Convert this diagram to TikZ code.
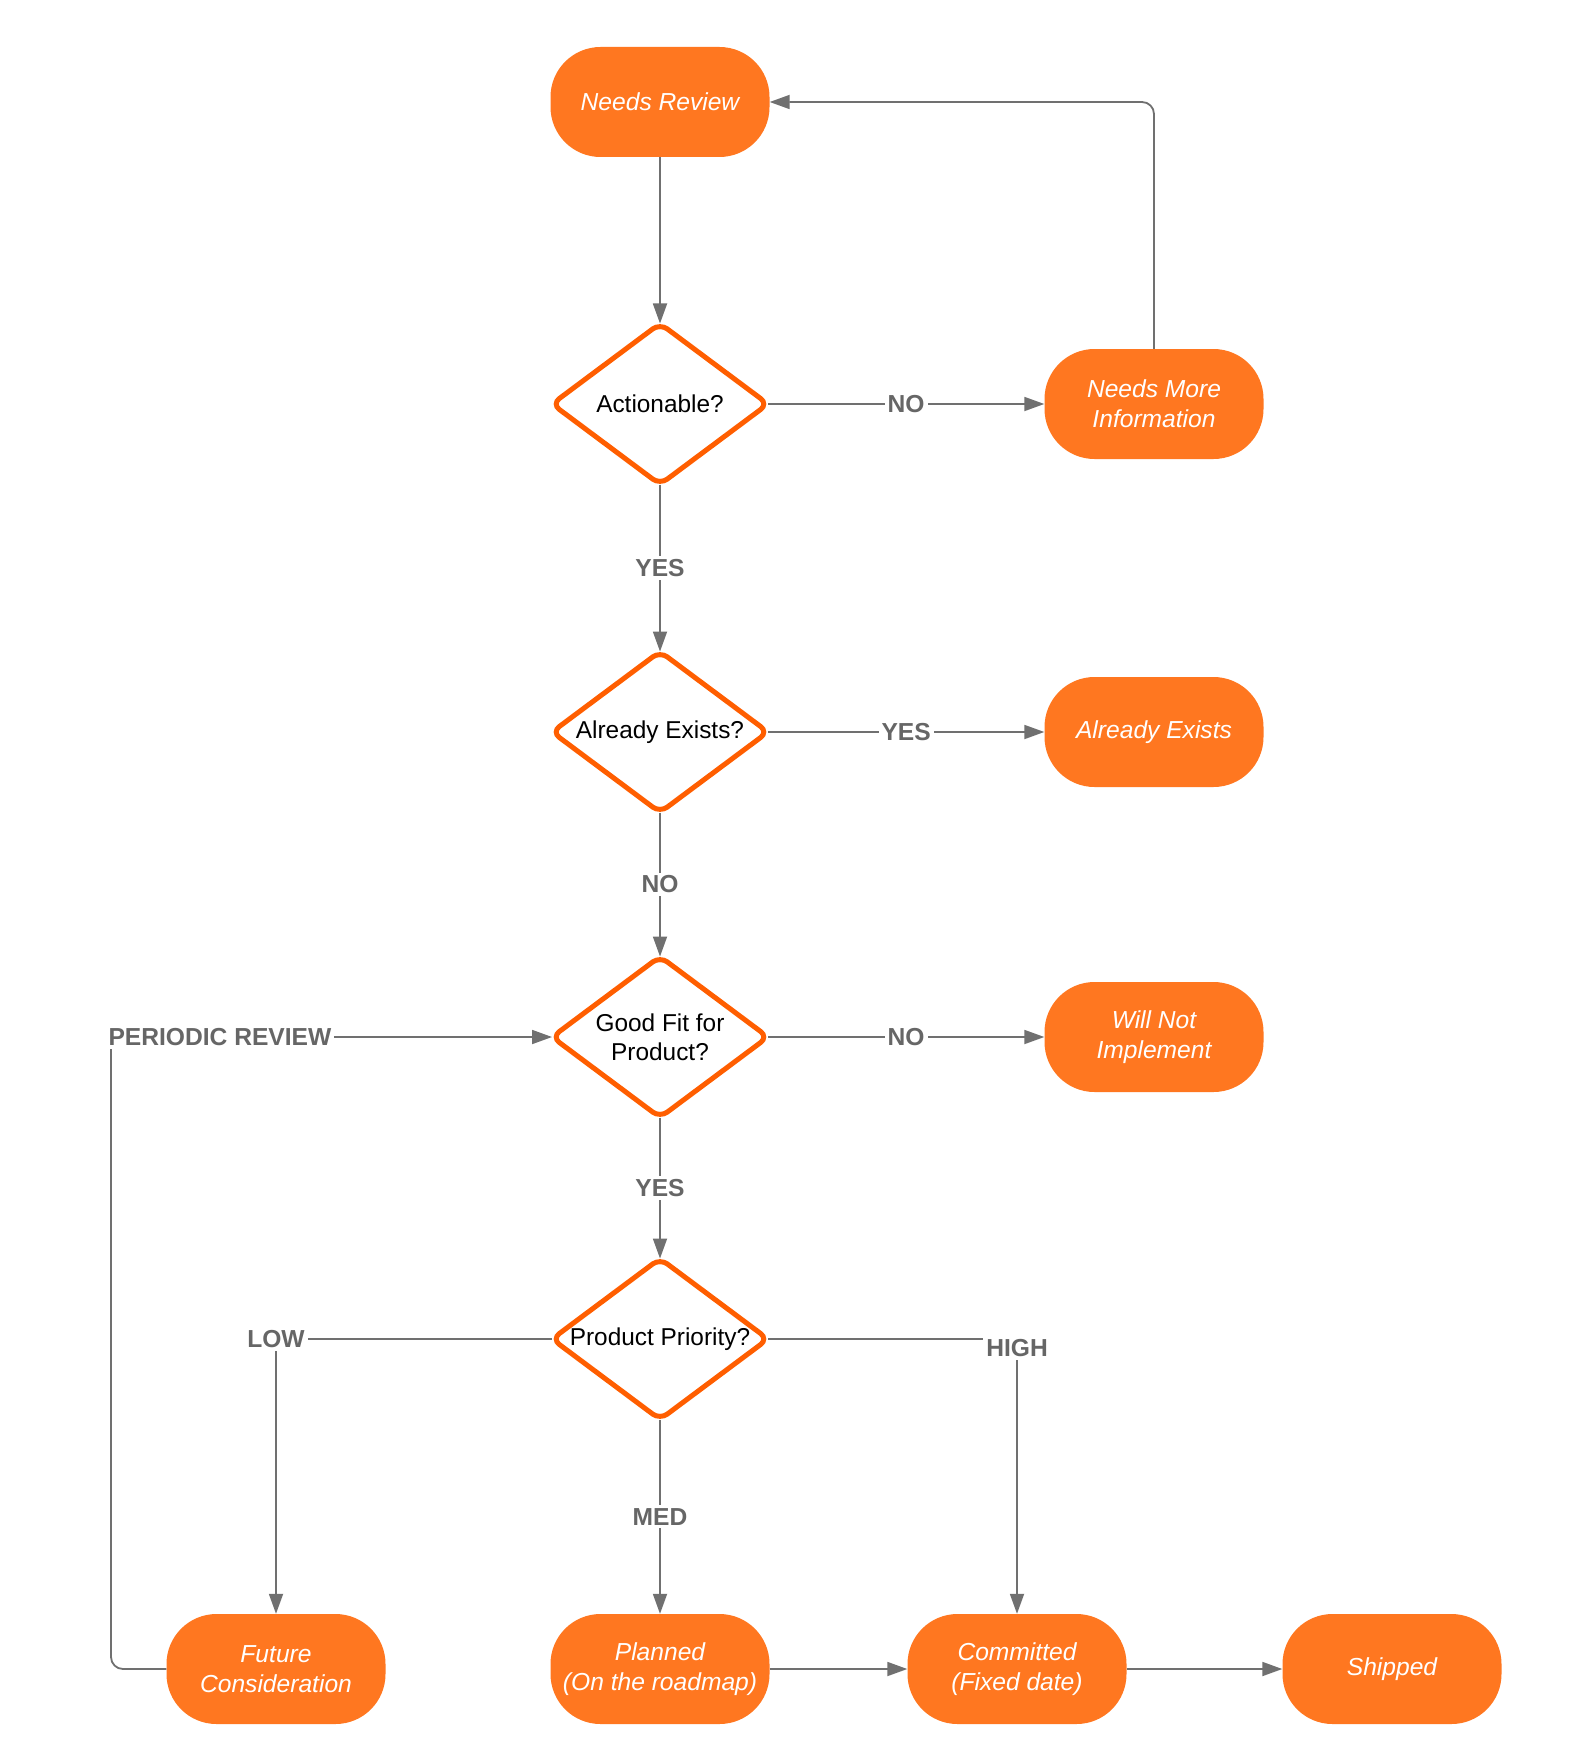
\documentclass[tikz,border=0pt]{standalone}
\usepackage{fontspec}
\setmainfont{Liberation Sans}
\usetikzlibrary{shapes.geometric,arrows.meta}
\definecolor{boxorange}{RGB}{255,119,32}
\definecolor{dmdorange}{RGB}{255,94,0}
\definecolor{conngray}{RGB}{112,112,112}
\definecolor{lblgray}{RGB}{102,102,102}
\begin{document}
\begin{tikzpicture}[x=1pt,y=-1pt,
  state/.style={rectangle, rounded corners=50pt, fill=boxorange, minimum width=219pt, minimum height=110pt, inner sep=0pt, text=white, font=\fontsize{24.6}{30}\selectfont\itshape, align=center},
  decision/.style={diamond, draw=dmdorange, line width=5pt, rounded corners=9pt, fill=white, minimum width=216pt, minimum height=161pt, inner sep=0pt, outer sep=0pt},
  dtext/.style={font=\fontsize{24.4}{29}\selectfont, align=center, inner sep=0pt},
  conn/.style={draw=conngray, line width=1.8pt},
  arr/.style={conn, -{Triangle[length=20pt,width=14pt]}},
  lbl/.style={fill=white, text=lblgray, font=\fontsize{24.6}{28}\selectfont\bfseries, inner sep=3pt}
]
\useasboundingbox (0,0) rectangle (1594,1760);
\fill[white] (0,0) rectangle (1594,1760);

% states
\node[state] (nr)  at (660,102)   {Needs Review};
\node[state] (nmi) at (1154,404)  {Needs More\\Information};
\node[state] (aeb) at (1154,732)  {Already Exists};
\node[state] (wni) at (1154,1037) {Will Not\\Implement};
\node[state] (fc)  at (276,1669)  {Future\\Consideration};
\node[state] (pl)  at (660,1669)  {Planned\\(On the roadmap)};
\node[state] (cm)  at (1017,1669) {Committed\\(Fixed date)};
\node[state] (sh)  at (1392,1669) {Shipped};

% decisions
\node[decision] (act) at (660,404)  {};
\node[dtext] (actT) at (act) {Actionable?};
\node[decision] (ae)  at (660,732)  {};
\node[dtext] (aeT) at (ae) {Already Exists?};
\node[decision] (gf)  at (660,1037) {};
\node[dtext] (gfT) at (gf) {Good Fit for\\Product?};
\node[decision] (pp)  at (660,1339) {};
\node[dtext] (ppT) at (pp) {Product Priority?};

% connectors
\draw[arr] (nr.south) -- (act.north);
\draw[arr] (act.east) -- node[lbl]{NO} (nmi.west);
\draw[arr, rounded corners=12pt] (nmi.north) |- (nr.east);
\draw[arr] (act.south) -- node[lbl]{YES} (ae.north);
\draw[arr] (ae.east) -- node[lbl]{YES} (aeb.west);
\draw[arr] (ae.south) -- node[lbl]{NO} (gf.north);
\draw[arr] (gf.east) -- node[lbl]{NO} (wni.west);
\draw[arr] (gf.south) -- node[lbl]{YES} (pp.north);
\draw[arr] (pp.west) -| node[lbl]{LOW} (fc.north);
\draw[arr] (pp.east) -| node[lbl, yshift=-9pt]{HIGH} (cm.north);
\draw[arr] (pp.south) -- node[lbl]{MED} (pl.north);
\draw[arr] (pl.east) -- (cm.west);
\draw[arr] (cm.east) -- (sh.west);

\coordinate (prc) at (111,1037);
\draw[conn, rounded corners=12pt] (fc.west) -| (prc);
\draw[arr] (prc) -- node[lbl, pos=0.247]{PERIODIC REVIEW} (gf.west);
\end{tikzpicture}
\end{document}
